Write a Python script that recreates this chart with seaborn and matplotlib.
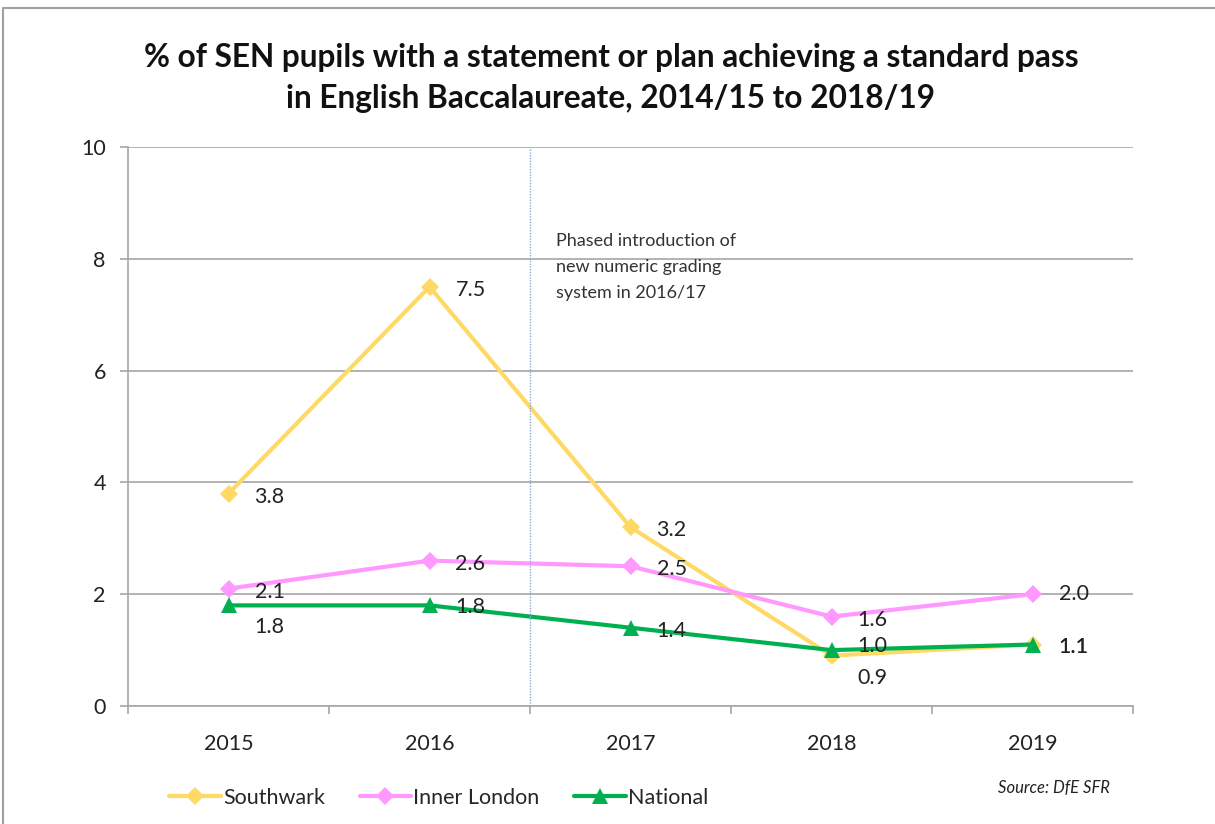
import matplotlib
matplotlib.use("Agg")
import matplotlib.pyplot as plt
import seaborn as sns
import pandas as pd
from matplotlib.lines import Line2D

years = ["2015", "2016", "2017", "2018", "2019"]
southwark = [3.8, 7.5, 3.2, 0.9, 1.1]
inner_london = [2.1, 2.6, 2.5, 1.6, 2.0]
national = [1.8, 1.8, 1.4, 1.0, 1.1]
series_names = ["Southwark", "Inner London", "National"]
title = "% of SEN pupils with a statement or plan achieving a standard pass\nin English Baccalaureate, 2014/15 to 2018/19"
note = "Phased introduction of\nnew numeric grading\nsystem in 2016/17"
source = "Source: DfE SFR"

colors = {"Southwark": "#FFD966", "Inner London": "#FF99FF", "National": "#00B050"}
markers = {"Southwark": "D", "Inner London": "D", "National": "^"}
msizes = {"Southwark": 9.5, "Inner London": 9.5, "National": 11.5}
# label offsets in pixels (dx, dy) per series/point
offsets = {
    "Southwark": [(26, -3), (26, -3), (26, -3), (26, -22), (26, -2)],
    "Inner London": [(26, -3), (26, -3), (26, -3), (26, -3), (26, 0)],
    "National": [(26, -22), (26, -2), (26, -3), (26, 4), (26, -2)],
}

sns.set_theme(style="white")
plt.rcParams["font.family"] = ["Lato", "DejaVu Sans"]

df = pd.DataFrame({
    "year": years * 3,
    "value": southwark + inner_london + national,
    "series": sum([[n] * len(years) for n in series_names], []),
})

fig = plt.figure(figsize=(12.15, 8.24), dpi=100)
ax = fig.add_axes([128 / 1215, 1 - 706 / 824, (1133 - 128) / 1215, (706 - 147) / 824])

for name in series_names:
    sub = df[df["series"] == name]
    sns.lineplot(data=sub, x="year", y="value", ax=ax, color=colors[name],
                 marker=markers[name], markersize=msizes[name], markeredgewidth=0,
                 linewidth=3, label=name, legend=False, sort=False)

ax.set_xlim(-0.5, len(years) - 0.5)
ax.set_ylim(0, 10)
ax.set_yticks([0, 2, 4, 6, 8, 10])
ax.set_xticks(range(len(years)))
ax.set_xticklabels(years)
ax.set_xlabel("")
ax.set_ylabel("")
ax.grid(axis="y", color="#A6A6A6", linewidth=1.2)
ax.grid(axis="x", visible=False)
ax.set_axisbelow(True)
for s in ["top", "right"]:
    ax.spines[s].set_visible(False)
for s in ["left", "bottom"]:
    ax.spines[s].set_color("#A6A6A6")
    ax.spines[s].set_linewidth(1.2)

ax.tick_params(axis="y", which="major", length=6, color="#A6A6A6", width=1.2,
               left=True, labelsize=15.5, pad=10, labelcolor="#222222")
ax.tick_params(axis="x", which="major", length=0, labelsize=15.5, pad=20, labelcolor="#222222")
ax.set_xticks([i - 0.5 for i in range(len(years) + 1)], minor=True)
ax.tick_params(axis="x", which="minor", length=6, color="#A6A6A6", width=1.2, bottom=True)

# vertical dotted marker line
ax.axvline(1.5, color="#8EA9DB", linewidth=1, linestyle=(0, (1, 1)))
ax.text(1.63, 8.47, note, fontsize=13, va="top", ha="left", color="#333333", linespacing=1.8)

# data labels
for name, vals in zip(series_names, [southwark, inner_london, national]):
    for i, v in enumerate(vals):
        dx, dy = offsets[name][i]
        ax.annotate(f"{v:.1f}", (i, v), xytext=(dx * 0.72, dy * 0.72), textcoords="offset points",
                    fontsize=15.5, ha="left", va="center", color="#222222")

fig.text(611 / 1215, 1 - 78 / 824, title, ha="center", va="center", fontsize=22.8,
         fontweight="bold", linespacing=1.5, color="#111111")

handles = [Line2D([0], [0], color=colors[n], marker=markers[n], markersize=msizes[n],
                  markeredgewidth=0, linewidth=3) for n in series_names]
fig.legend(handles, series_names, loc="center left", bbox_to_anchor=(150 / 1215, 1 - 798 / 824),
           ncol=3, frameon=False, fontsize=15.5, handlelength=2.4, handletextpad=0.1,
           columnspacing=1.6)
fig.text(1110 / 1215, 1 - 788 / 824, source, ha="right", va="center", fontsize=12,
         fontstyle="italic", color="#222222")

# figure border (top and left)
fig.add_artist(Line2D([3 / 1215, 3 / 1215, 1], [0, 1 - 8 / 824, 1 - 8 / 824],
                      transform=fig.transFigure, color="#A0A0A0", linewidth=1.5))

fig.savefig("out.png", dpi=100, facecolor="white")
